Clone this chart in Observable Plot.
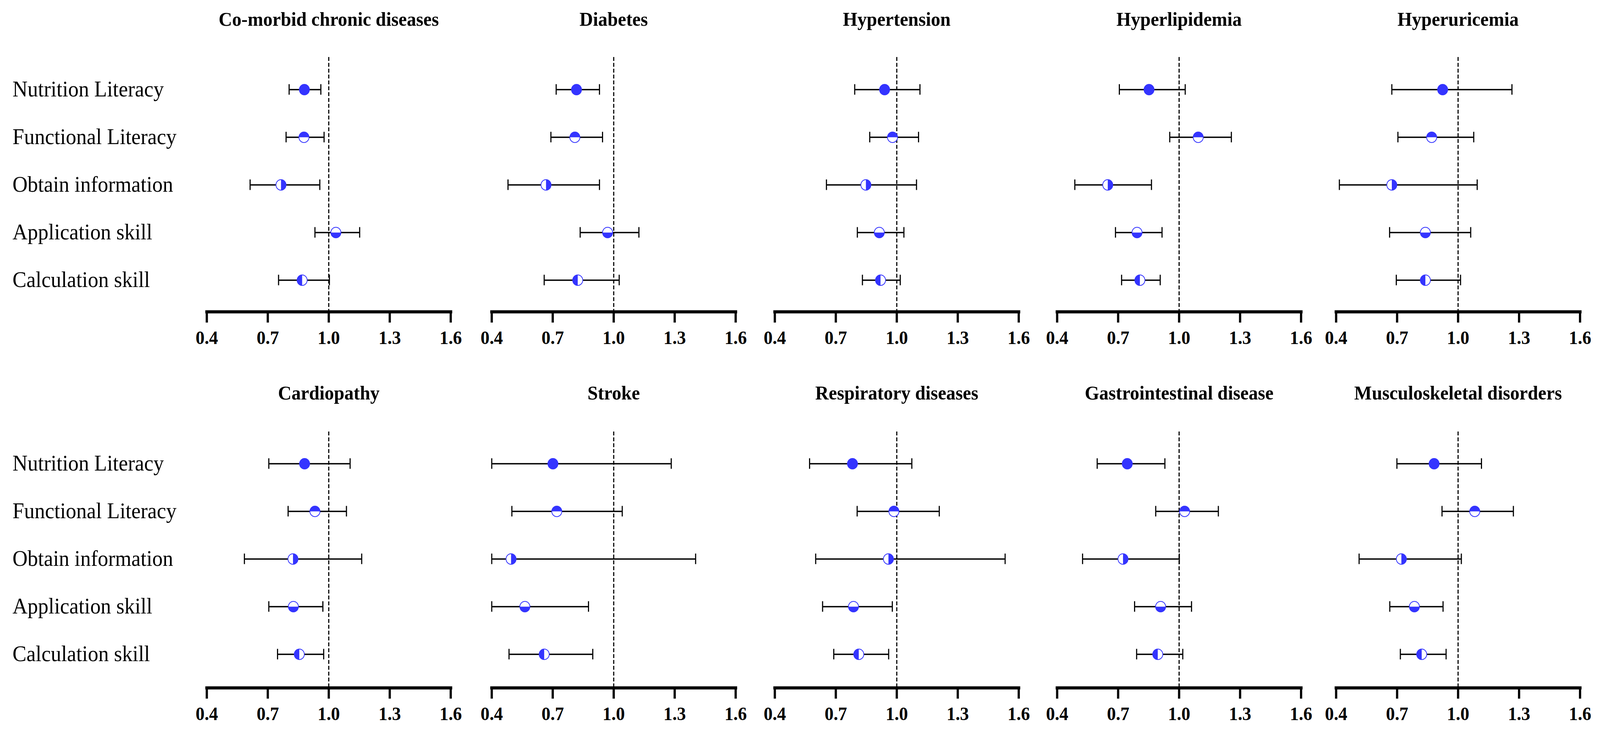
<!DOCTYPE html>
<html><head><meta charset="utf-8">
<script src="https://cdn.jsdelivr.net/npm/d3@7"></script>
<script src="https://cdn.jsdelivr.net/npm/@observablehq/plot@0.6"></script>
<style>
html,body{margin:0;padding:0;background:#fff;overflow:hidden;}
#chart{position:absolute;left:0;top:0;width:4290px;height:1877px;overflow:hidden;background:#fff;transform-origin:0 0;}
#chart svg{position:absolute;overflow:visible;}
</style></head><body><div id="chart"></div>
<script>
// ---- data ----
const diseases = ["Co-morbid chronic diseases","Diabetes","Hypertension","Hyperlipidemia","Hyperuricemia",
  "Cardiopathy","Stroke","Respiratory diseases","Gastrointestinal disease","Musculoskeletal disorders"];
const measures = ["Nutrition Literacy","Functional Literacy","Obtain information","Application skill","Calculation skill"];
const oddsRatio = [
  [0.880,0.878,0.765,1.035,0.869],
  [0.817,0.809,0.667,0.970,0.823],
  [0.940,0.979,0.848,0.914,0.920],
  [0.852,1.094,0.649,0.793,0.807],
  [0.924,0.870,0.674,0.839,0.839],
  [0.881,0.932,0.824,0.826,0.855],
  [0.701,0.720,0.495,0.563,0.658],
  [0.782,0.986,0.959,0.787,0.813],
  [0.745,1.027,0.724,0.909,0.895],
  [0.882,1.082,0.721,0.785,0.821]
];
const ciLower = [
  [0.805,0.790,0.613,0.932,0.753],
  [0.717,0.691,0.480,0.835,0.658],
  [0.793,0.867,0.654,0.806,0.831],
  [0.706,0.954,0.487,0.687,0.717],
  [0.674,0.704,0.416,0.663,0.696],
  [0.705,0.800,0.585,0.705,0.748],
  [0.400,0.499,0.400,0.400,0.485],
  [0.571,0.805,0.601,0.635,0.690],
  [0.597,0.885,0.525,0.781,0.791],
  [0.699,0.921,0.513,0.664,0.716]
];
const ciUpper = [
  [0.961,0.977,0.956,1.152,1.003],
  [0.930,0.945,0.930,1.124,1.027],
  [1.114,1.107,1.097,1.035,1.017],
  [1.030,1.257,0.864,0.916,0.907],
  [1.265,1.077,1.094,1.062,1.012],
  [1.105,1.087,1.162,0.971,0.975],
  [1.283,1.042,1.403,0.876,0.897],
  [1.074,1.209,1.533,0.978,0.960],
  [0.930,1.193,1.001,1.061,1.018],
  [1.115,1.272,1.016,0.926,0.941]
];
const xTicks = [0.4,0.7,1.0,1.3,1.6];
const xDomain = [0.4,1.6];
const refValue = [1.0];

// ---- layout / style ----
const BLUE = "#3434ff";
const SERIF = "'Liberation Serif','Times New Roman',serif";
const colStart = [554,1318,2077,2834,3582];
const axisW = 654;
const STEP = 122, CAP = 27;
const rowLayout = [
  {top:0,   height:938, first:229, frameTop:146, axisY:798, titleMid:49},
  {top:938, height:939, first:249, frameTop:167, axisY:823, titleMid:68}
];

function halfSym(a0){
  return {draw(ctx, size){
    const r = Math.sqrt(size/Math.PI);
    ctx.moveTo(r*Math.cos(a0), r*Math.sin(a0));
    ctx.arc(0,0,r,a0,a0+Math.PI,false);
    ctx.closePath();
  }};
}
const fullSym = {draw(ctx,size){const r=Math.sqrt(size/Math.PI);ctx.moveTo(r,0);ctx.arc(0,0,r,0,2*Math.PI);ctx.closePath();}};
const symbols = [fullSym, halfSym(Math.PI), halfSym(-Math.PI/2), halfSym(0), halfSym(Math.PI/2)];

const chart = document.getElementById("chart");
diseases.forEach((name,k)=>{
  const row = Math.floor(k/5), col = k%5;
  const L = rowLayout[row];
  const start = colStart[col];
  const left = col===0 ? 0 : start-60;
  const marginLeft = start-left;
  const marginRight = Math.min(60, 4290-(start+axisW));
  const width = marginLeft+axisW+marginRight;
  const data = measures.map((m,j)=>({measure:m, j, or:oddsRatio[k][j], lo:ciLower[k][j], hi:ciUpper[k][j]}));
  const inset = (STEP-CAP)/2;
  const marks = [
    Plot.ruleX(refValue,{stroke:"black",strokeWidth:3,strokeDasharray:"10,5"}),
    Plot.ruleY(data,{y:"measure",x1:"lo",x2:"hi",stroke:"black",strokeWidth:3.5}),
    Plot.tickX(data,{x:"lo",y:"measure",insetTop:inset,insetBottom:inset,stroke:"black",strokeWidth:3}),
    Plot.tickX(data,{x:"hi",y:"measure",insetTop:inset,insetBottom:inset,stroke:"black",strokeWidth:3}),
    Plot.dot(data,{x:"or",y:"measure",r:13.5,fill:"white",stroke:BLUE,strokeWidth:2}),
    ...symbols.map((s,j)=>Plot.dot(data.filter(d=>d.j===j),{x:"or",y:"measure",r:13.5,symbol:s,fill:BLUE})),
    Plot.frame({anchor:"bottom",stroke:"black",strokeWidth:8}),
    Plot.axisX(xTicks,{anchor:"bottom",tickSize:28,tickPadding:20,strokeWidth:6,stroke:"black",
      tickFormat:d=>d.toFixed(1),fontSize:48,fontWeight:"bold",fontFamily:SERIF,fill:"black"}),
    Plot.text([name],{text:d=>d,frameAnchor:"top",lineAnchor:"middle",dy:L.titleMid-L.frameTop,fontSize:50,fontWeight:"bold",fontFamily:SERIF,fill:"black"})
  ];
  if(col===0){
    marks.push(Plot.text(measures,{y:d=>d,text:d=>d,frameAnchor:"left",textAnchor:"start",lineAnchor:"middle",dx:33-marginLeft,fontSize:56,fontFamily:SERIF,fill:"black"}));
  }
  const svg = Plot.plot({
    width, height:L.height,
    marginLeft, marginRight, marginTop:L.frameTop, marginBottom:L.height-L.axisY,
    style:{background:"transparent",overflow:"visible"},
    x:{domain:xDomain},
    y:{type:"band",domain:measures,range:[L.first-STEP/2, L.first+STEP*4.5],padding:0,axis:null},
    marks
  });
  svg.style.left = left+"px";
  svg.style.top = L.top+"px";
  chart.appendChild(svg);
});
// fit the 4290×1877 drawing into the actual viewport
function fit(){
  const sx = (window.innerWidth || 4290)/4290, sy = (window.innerHeight || 1877)/1877;
  chart.style.transform = `scale(${sx}, ${sy})`;
}
fit();
window.addEventListener("resize", fit);
</script></body></html>
